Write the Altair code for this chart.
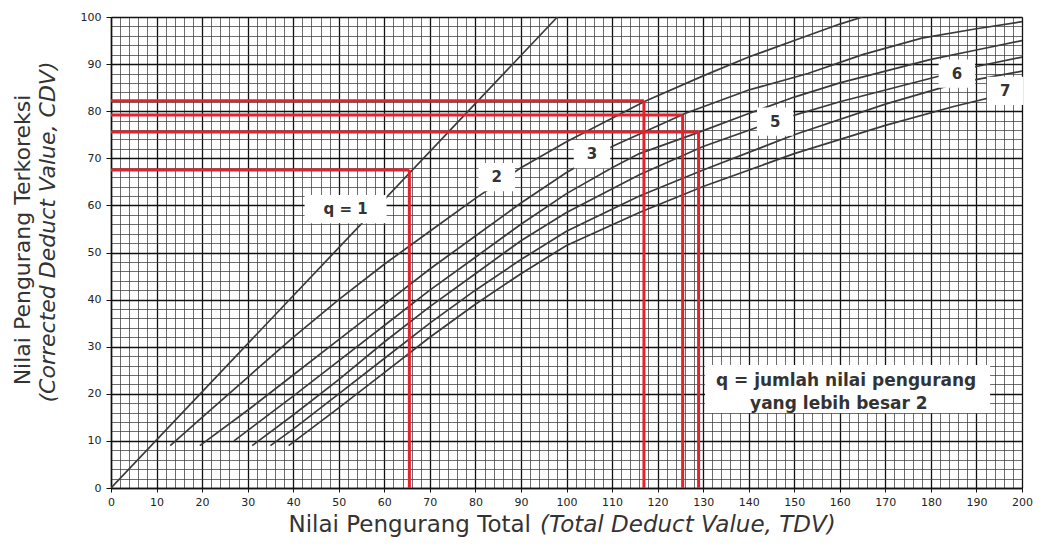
import altair as alt
import pandas as pd

# ---------------- data ----------------
q_names = ["1", "2", "3", "4", "5", "6", "7"]
q1_tdv = [0, 98]
q1_cdv = [0, 100]
q2_tdv = [13, 20, 30, 40, 50, 60, 70, 80, 90, 100, 110, 117, 130, 140, 150, 160, 165]
q2_cdv = [9, 15, 23.5, 32, 40, 47.5, 54.5, 61.5, 68, 73.5, 78.5, 82, 87.5, 91.5, 95, 98.5, 100]
q3_tdv = [19.5, 30, 40, 50, 60, 70, 80, 90, 100, 110, 126, 140, 153, 165, 178, 190, 200]
q3_cdv = [9, 16.5, 24, 31.5, 39, 46.5, 53.5, 60.5, 67, 72.5, 79.5, 84.5, 88, 92, 95.5, 97.5, 99]
q4_tdv = [27, 40, 50, 60, 70, 80, 90, 100, 110, 116, 129, 140, 150, 160, 170, 180, 190, 200]
q4_cdv = [10, 19.5, 27, 34.5, 42, 49, 56, 62.5, 68, 71, 75.5, 79.5, 83, 86, 88.5, 91, 93, 95]
q5_tdv = [31, 40, 50, 60, 70, 80, 90, 100, 116, 130, 146, 160, 170, 180, 190, 200]
q5_cdv = [9, 15.5, 23, 31, 38.5, 45.5, 52.5, 58.5, 66.5, 72.5, 78, 82, 84.5, 87, 89.5, 91.5]
q6_tdv = [35, 40, 50, 60, 70, 80, 90, 100, 116, 130, 150, 170, 186, 200]
q6_cdv = [9, 12.5, 20, 27.5, 35, 42, 48.5, 54.5, 62, 67.5, 75, 81.5, 86, 88.5]
q7_tdv = [39, 50, 60, 70, 80, 90, 100, 116, 130, 150, 170, 185, 200]
q7_cdv = [9, 17, 24.5, 32, 39, 45.5, 51.5, 58.5, 64, 71, 77, 81, 84.5]

# red construction lines (TDV read on the x axis, CDV read on the y axis)
red_tdv = [65.5, 117, 125.5, 129]
red_cdv = [67.5, 82.2, 79.2, 75.6]

# curve labels
label_text = ["q = 1", "2", "3", "5", "6", "7"]
label_tdv = [51.5, 84.7, 105.6, 145.8, 185.7, 196.3]
label_cdv = [59.2, 66, 70.9, 77.8, 88, 84.3]
label_halfw = [9.0, 4.0, 4.0, 4.0, 4.0, 4.0]

note_lines = ["q = jumlah nilai pengurang", "yang lebih besar 2"]
note_tdv = [132.8, 140.3]
note_cdv = [22.7, 17.8]
note_box = [130.4, 193.0, 15.9, 26.1]

x_ticks = list(range(0, 201, 2))
y_ticks = list(range(0, 101, 2))

# ---------------- tables ----------------
series = [q1_tdv, q2_tdv, q3_tdv, q4_tdv, q5_tdv, q6_tdv, q7_tdv]
values = [q1_cdv, q2_cdv, q3_cdv, q4_cdv, q5_cdv, q6_cdv, q7_cdv]
rows = []
for name, xs, ys in zip(q_names, series, values):
    for i, (a, b) in enumerate(zip(xs, ys)):
        rows.append({"q": name, "TDV": a, "CDV": b, "o": i})
curves = pd.DataFrame(rows)

red_h = pd.DataFrame({"x0": [0] * len(red_tdv), "x1": red_tdv, "y": red_cdv})
red_v = pd.DataFrame({"x": red_tdv, "y0": [0] * len(red_tdv), "y1": red_cdv})

labels = pd.DataFrame({"t": label_text, "x": label_tdv, "y": label_cdv, "hw": label_halfw})
labels["xa"] = labels["x"] - labels["hw"]
labels["xb"] = labels["x"] + labels["hw"]
labels["ya"] = labels["y"] - 3.0
labels["yb"] = labels["y"] + 3.0

notes = pd.DataFrame({"t": note_lines, "x": note_tdv, "y": note_cdv})
note_rect = pd.DataFrame({"xa": [note_box[0]], "xb": [note_box[1]], "ya": [note_box[2]], "yb": [note_box[3]]})

# ---------------- scales / axes ----------------
XS = alt.Scale(domain=[0, 200], nice=False, zero=False)
YS = alt.Scale(domain=[0, 100], nice=False, zero=False)
major = "datum.value % 10 === 0"
FONT = "DejaVu Sans"

xaxis = alt.Axis(
    values=x_ticks, title=None, grid=True,
    labelExpr="datum.value % 10 === 0 ? datum.label : ''",
    labelOverlap=False, labelFlush=False,
    gridColor={"condition": {"test": major, "value": "#111111"}, "value": "#3c3c3c"},
    gridWidth={"condition": {"test": major, "value": 1.3}, "value": 0.75},
    tickSize={"condition": {"test": major, "value": 4}, "value": 0},
    tickColor="#111111", labelFont=FONT, labelFontSize=11, labelColor="#222222",
    labelPadding=4, domainColor="#111111", domainWidth=1.5,
)
yaxis = alt.Axis(
    values=y_ticks, title=None, grid=True,
    labelExpr="datum.value % 10 === 0 ? datum.label : ''",
    labelOverlap=False, labelFlush=False,
    gridColor={"condition": {"test": major, "value": "#111111"}, "value": "#3c3c3c"},
    gridWidth={"condition": {"test": major, "value": 1.3}, "value": 0.75},
    tickSize={"condition": {"test": major, "value": 5}, "value": 0},
    tickColor="#111111", labelFont=FONT, labelFontSize=11, labelColor="#222222",
    labelPadding=5, domainColor="#111111", domainWidth=1.5,
)


def X(field):
    return alt.X(field, scale=XS, axis=xaxis)


def Y(field):
    return alt.Y(field, scale=YS, axis=yaxis)


lines = alt.Chart(curves).mark_line(color="#3a3a3a", strokeWidth=1.7, clip=True).encode(
    x=X("TDV:Q"), y=Y("CDV:Q"), detail="q:N", order="o:Q")

red_color = "#e3222b"
rh = alt.Chart(red_h).mark_rule(color=red_color, strokeWidth=3).encode(
    x=X("x0:Q"), x2="x1:Q", y=Y("y:Q"))
rv = alt.Chart(red_v).mark_rule(color=red_color, strokeWidth=3).encode(
    x=X("x:Q"), y=Y("y0:Q"), y2="y1:Q")

lab_box = alt.Chart(labels).mark_rect(color="white").encode(
    x=X("xa:Q"), x2="xb:Q", y=Y("ya:Q"), y2="yb:Q")
lab_txt = alt.Chart(labels).mark_text(font=FONT, fontSize=15, fontWeight="bold", color="#333333").encode(
    x=X("x:Q"), y=Y("y:Q"), text="t:N")

nbox = alt.Chart(note_rect).mark_rect(color="white").encode(
    x=X("xa:Q"), x2="xb:Q", y=Y("ya:Q"), y2="yb:Q")
ntxt = alt.Chart(notes).mark_text(font=FONT, fontSize=17, fontWeight="bold", color="#333333", align="left").encode(
    x=X("x:Q"), y=Y("y:Q"), text="t:N")


def fixed_text(txt, px, py, **kw):
    return alt.Chart(pd.DataFrame({"t": [txt]})).mark_text(font=FONT, color="#333333", **kw).encode(
        text="t:N", x=alt.value(px), y=alt.value(py))


xt1 = fixed_text("Nilai Pengurang Total", 420, 508, fontSize=23, align="right")
xt2 = fixed_text("(Total Deduct Value, TDV)", 429, 508, fontSize=23, align="left", fontStyle="italic")
yt1 = fixed_text("Nilai Pengurang Terkoreksi", -88, 223, fontSize=22, angle=270)
yt2 = fixed_text("(Corrected Deduct Value, CDV)", -63, 215, fontSize=22, angle=270, fontStyle="italic")

chart = alt.layer(lines, rh, rv, lab_box, lab_txt, nbox, ntxt, xt1, xt2, yt1, yt2).properties(
    width=911, height=471,
    padding={"left": 103, "top": 9, "right": 14, "bottom": 49},
    autosize=alt.AutoSizeParams(type="none"),
).configure_view(stroke="#111111", strokeWidth=1.5).configure(background="white")

chart.save("out.html", embed_options={"renderer": "svg", "actions": False})
